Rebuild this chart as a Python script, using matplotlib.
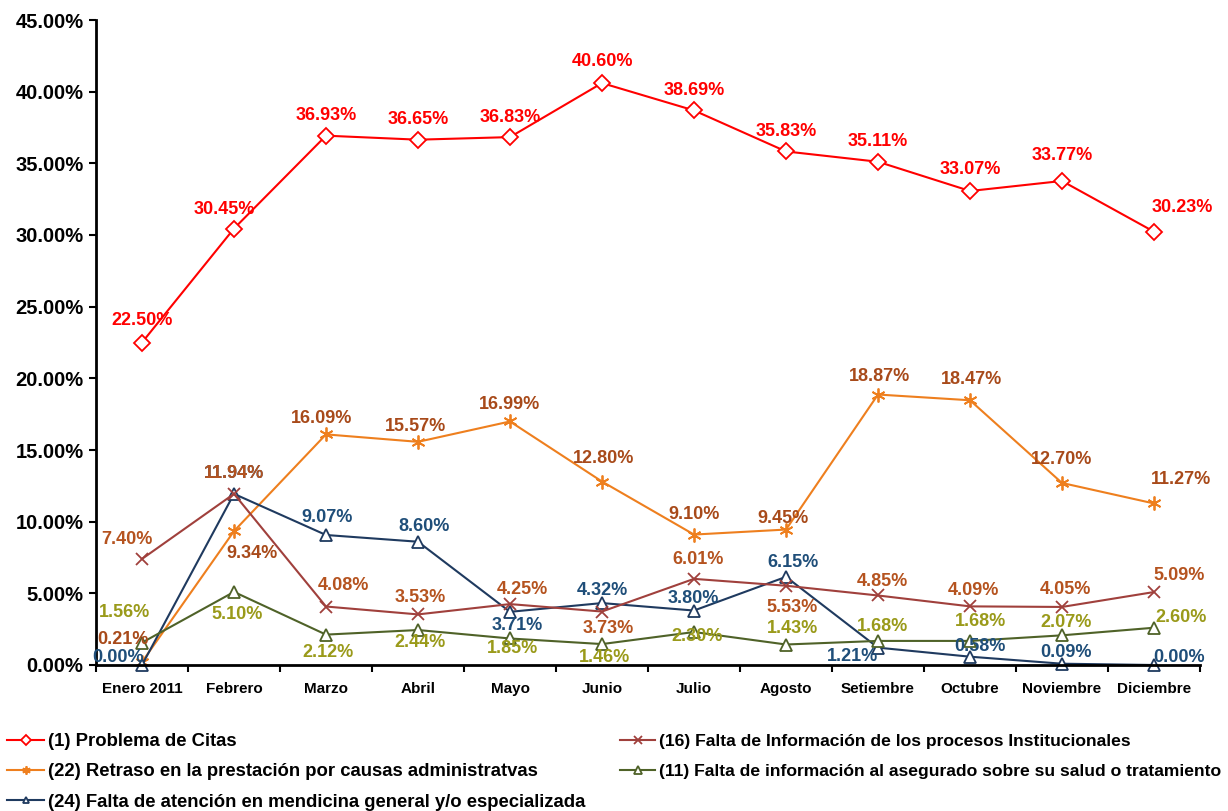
import matplotlib
matplotlib.use("Agg")
import matplotlib.pyplot as plt
import numpy as np

plt.rcParams["font.family"] = ["Liberation Sans", "DejaVu Sans"]
plt.rcParams["font.weight"] = "bold"

# datos
meses = ["Enero 2011", "Febrero", "Marzo", "Abril", "Mayo", "Junio",
         "Julio", "Agosto", "Setiembre", "Octubre", "Noviembre", "Diciembre"]

citas = [22.50, 30.45, 36.93, 36.65, 36.83, 40.60, 38.69, 35.83, 35.11, 33.07, 33.77, 30.23]
retraso = [0.21, 9.34, 16.09, 15.57, 16.99, 12.80, 9.10, 9.45, 18.87, 18.47, 12.70, 11.27]
falta_info_proc = [7.40, 11.94, 4.08, 3.53, 4.25, 3.73, 6.01, 5.53, 4.85, 4.09, 4.05, 5.09]
falta_atencion = [0.00, 11.94, 9.07, 8.60, 3.71, 4.32, 3.80, 6.15, 1.21, 0.58, 0.09, 0.00]
falta_info_aseg = [1.56, 5.10, 2.12, 2.44, 1.85, 1.46, 2.30, 1.43, 1.68, 1.68, 2.07, 2.60]

# desplazamiento de etiquetas (pixeles, y hacia arriba)
off_citas = [(0, 22), (-10, 19), (0, 20), (0, 20), (0, 20), (0, 22),
             (0, 20), (0, 20), (0, 20), (0, 21), (0, 25), (28, 24)]
off_retraso = [(-19, 22), (18, -22), (-4, 16), (-3, 15), (0, 17), (2, 23),
               (0, 20), (-3, 11), (2, 18), (2, 21), (0, 23), (27, 24)]
off_proc = [(-15, 19), (0, 20), (17, 21), (2, 17), (12, 15), (6, -17),
            (4, 19), (6, -22), (4, 14), (3, 16), (3, 17), (25, 17)]
off_aten = [(-24, 7), (0, 20), (1, 17), (6, 15), (7, -14), (0, 13),
            (-1, 12), (7, 14), (-26, -9), (10, 10), (4, 11), (25, 7)]
off_aseg = [(-17, 30), (3, -23), (2, -18), (2, -12), (3, -10), (3, -13),
            (3, -4), (6, 16), (4, 14), (10, 19), (4, 13), (27, 10)]

x = np.arange(len(meses))

fig = plt.figure(figsize=(12.28, 8.11), dpi=100)
ax = fig.add_axes([96 / 1228, 146 / 811, 1104 / 1228, 645 / 811])

series = [
    (citas, "(1) Problema de Citas", "#FF0000", "#FF0000", "D", 8, off_citas),
    (retraso, "(22) Retraso en la prestación por causas administratvas", "#EE7F1E", "#A84A1A", (6, 2, 0), 10, off_retraso),
    (falta_atencion, "(24) Falta de atención en mendicina general y/o especializada", "#1F3A5F", "#1F4E79", "^", 8, off_aten),
    (falta_info_proc, "(16) Falta de Información de los procesos Institucionales", "#A0403C", "#B5531F", "x", 9, off_proc),
    (falta_info_aseg, "(11) Falta de información al asegurado sobre su salud o tratamiento", "#4F6228", "#9A9A1A", "^", 9, off_aseg),
]

handles = []
for vals, name, lc, tc, mk, ms, offs in series:
    h, = ax.plot(x, vals, color=lc, lw=1.5, marker=mk, markersize=ms,
                 markerfacecolor="white", markeredgecolor=lc, markeredgewidth=1.3,
                 label=name, clip_on=False)
    handles.append(h)
    for xi, v, (dx, dy) in zip(x, vals, offs):
        ax.annotate(f"{v:.2f}%", (xi, v), xytext=(dx, dy), textcoords="offset pixels",
                    ha="center", va="center", fontsize=13, fontweight="bold", color=tc)

ax.set_xlim(-0.5, len(meses) - 0.5)
ax.set_ylim(0, 45)
ax.set_yticks(np.arange(0, 46, 5))
ax.set_yticklabels([f"{t:.2f}%" for t in np.arange(0, 46, 5)], fontsize=14.5, fontweight="bold")
ax.set_xticks(x)
ax.set_xticklabels(meses, fontsize=11, fontweight="bold")
ax.set_xticks(np.arange(-0.5, len(meses), 1), minor=True)
ax.tick_params(axis="x", which="major", length=0, pad=12)
ax.tick_params(axis="x", which="minor", length=5, width=1.5, direction="out")
ax.tick_params(axis="y", length=5, width=1.5, direction="out", pad=4)
for s in ["top", "right"]:
    ax.spines[s].set_visible(False)
for s in ["left", "bottom"]:
    ax.spines[s].set_linewidth(2)

leg_kw = dict(frameon=False, handlelength=2.0, handletextpad=0.2,
              borderaxespad=0, borderpad=0, markerscale=0.6)
fig.legend(handles=handles[:3], loc="upper left", bbox_to_anchor=(0.006, 0.096),
           prop={"weight": "bold", "size": 13.3}, labelspacing=0.72, **leg_kw)
fig.legend(handles=handles[3:], loc="upper left", bbox_to_anchor=(0.505, 0.095),
           prop={"weight": "bold", "size": 12.6}, labelspacing=0.82, **leg_kw)

fig.savefig("out.png", dpi=100)
